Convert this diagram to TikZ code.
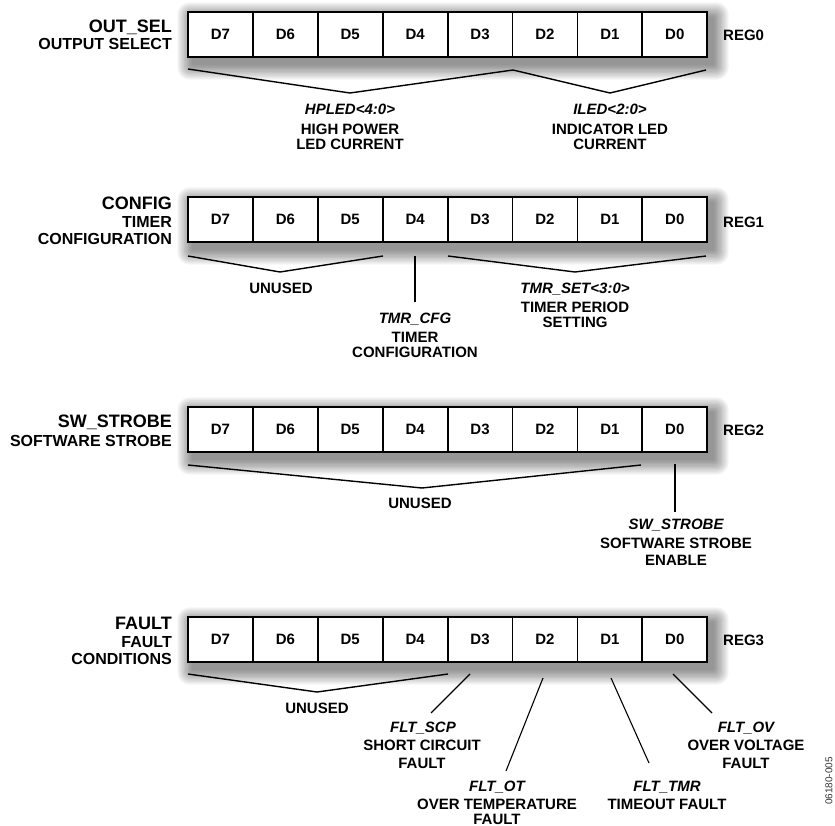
\documentclass[tikz,border=0pt]{standalone}
\usepackage{fontspec}
\setmainfont{Liberation Sans}
\begin{document}
\begin{tikzpicture}[x=1pt,y=-1pt,
  cell/.style={draw, line width=1.8pt, minimum width=64.9pt, minimum height=45pt, inner sep=0pt,
    font=\fontsize{15}{15}\selectfont\bfseries, fill=white},
  lbl/.style={inner sep=0pt, font=\fontsize{15}{15}\selectfont\bfseries, text height=10.8pt, text depth=0pt},
  ital/.style={inner sep=0pt, font=\fontsize{15}{15}\selectfont\bfseries\itshape, text height=10.8pt, text depth=0pt},
  ttl/.style={inner sep=0pt, anchor=east, font=\fontsize{18}{18}\selectfont\bfseries, text height=12.9pt, text depth=0pt},
  sub/.style={inner sep=0pt, anchor=east, font=\fontsize{16}{16}\selectfont\bfseries, text height=11.5pt, text depth=0pt},
  reg/.style={inner sep=0pt, anchor=west, font=\fontsize{15}{15}\selectfont\bfseries, text height=10.8pt, text depth=0pt},
  brk/.style={line width=1.4pt, line join=miter},
  pinline/.style={line width=2.2pt},
  thinline/.style={line width=1.1pt}]
\useasboundingbox (0,0) rectangle (835,826);

% shadows and register cells
\foreach \r/\T in {0/12,1/197,2/407,3/617}{
  \foreach \e in {1,...,12}{
    \fill[black, opacity=0.045, rounded corners=\e pt]
      ({193-1.3*\e},{\T+6-1.3*\e}) rectangle ({713+1.3*\e},{\T+52+1.3*\e});
  }
  \foreach \b in {7,...,0}{
    \node[cell] (r\r b\b) at ({188+(7-\b)*64.9+32.45},{\T+22.5}) {D\b};
  }
}

% register names
\node[reg] (reg0) at (723,35) {REG0};
\node[reg] (reg1) at (723,222) {REG1};
\node[reg] (reg2) at (723,430) {REG2};
\node[reg] (reg3) at (723,640) {REG3};

% left titles
\node[ttl] (t0a) at (172,26) {OUT\_SEL};
\node[sub] (t0b) at (172,44) {OUTPUT SELECT};
\node[ttl] (t1a) at (172,203) {CONFIG};
\node[sub] (t1b) at (172,222) {TIMER};
\node[sub] (t1c) at (172,239) {CONFIGURATION};
\node[ttl] (t2a) at (172,421) {SW\_STROBE};
\node[sub] (t2b) at (172,441) {SOFTWARE STROBE};
\node[ttl] (t3a) at (172,623) {FAULT};
\node[sub] (t3b) at (172,642) {FAULT};
\node[sub] (t3c) at (172,659) {CONDITIONS};

% ---- REG0 fields
\coordinate (a0) at (188,69);
\coordinate (a1) at (350,93);
\coordinate (a2) at (513,70);
\coordinate (a3) at (610,93);
\coordinate (a4) at (706,70);
\draw[brk] (a0) -- (a1) -- (a2) -- (a3) -- (a4);
\node[ital] (hp1) at (350,109) {HPLED<4:0>};
\node[lbl] (hp2) at (350,129) {HIGH POWER};
\node[lbl] (hp3) at (350,144) {LED CURRENT};
\node[ital] (il1) at (610,109) {ILED<2:0>};
\node[lbl] (il2) at (610,129) {INDICATOR LED};
\node[lbl] (il3) at (610,144) {CURRENT};

% ---- REG1 fields
\coordinate (b0) at (188,256);
\coordinate (b1) at (280,272);
\coordinate (b2) at (383,256);
\coordinate (b3) at (448,256);
\coordinate (b4) at (575,272);
\coordinate (b5) at (706,256);
\coordinate (b6) at (415,256);
\coordinate (b7) at (415,302);
\draw[brk] (b0) -- (b1) -- (b2);
\draw[brk] (b3) -- (b4) -- (b5);
\draw[pinline] (b6) -- (b7);
\node[lbl] (un1) at (281,288) {UNUSED};
\node[ital] (tc1) at (415,318) {TMR\_CFG};
\node[lbl] (tc2) at (415,337) {TIMER};
\node[lbl] (tc3) at (415,352) {CONFIGURATION};
\node[ital] (ts1) at (575,288) {TMR\_SET<3:0>};
\node[lbl] (ts2) at (575,307) {TIMER PERIOD};
\node[lbl] (ts3) at (575,322) {SETTING};

% ---- REG2 fields
\coordinate (c0) at (188,465);
\coordinate (c1) at (422,488);
\coordinate (c2) at (641,465);
\coordinate (c3) at (675,464);
\coordinate (c4) at (675,512);
\draw[brk] (c0) -- (c1) -- (c2);
\draw[pinline] (c3) -- (c4);
\node[lbl] (un2) at (420,503) {UNUSED};
\node[ital] (sw1) at (676,524) {SW\_STROBE};
\node[lbl] (sw2) at (676,543) {SOFTWARE STROBE};
\node[lbl] (sw3) at (676,560) {ENABLE};

% ---- REG3 fields
\coordinate (d0) at (188,674);
\coordinate (d1) at (317,692);
\coordinate (d2) at (448,674);
\draw[brk] (d0) -- (d1) -- (d2);
\node[lbl] (un3) at (317,708) {UNUSED};
\coordinate (e0) at (470,674);
\coordinate (e1) at (431,713);
\coordinate (f0) at (543,678);
\coordinate (f1) at (506,771);
\coordinate (g0) at (611,678);
\coordinate (g1) at (649,763);
\coordinate (h0) at (673,674);
\coordinate (h1) at (712,713);
\draw[thinline] (e0) -- (e1);
\draw[thinline] (f0) -- (f1);
\draw[thinline] (g0) -- (g1);
\draw[thinline] (h0) -- (h1);
\node[ital] (sc1) at (423,727) {FLT\_SCP};
\node[lbl] (sc2) at (422,745) {SHORT CIRCUIT};
\node[lbl] (sc3) at (422,763) {FAULT};
\node[ital] (ot1) at (497,786) {FLT\_OT};
\node[lbl] (ot2) at (497,804) {OVER TEMPERATURE};
\node[lbl] (ot3) at (497,819) {FAULT};
\node[ital] (tm1) at (667,786) {FLT\_TMR};
\node[lbl] (tm2) at (667,804) {TIMEOUT FAULT};
\node[ital] (ov1) at (746,727) {FLT\_OV};
\node[lbl] (ov2) at (746,745) {OVER VOLTAGE};
\node[lbl] (ov3) at (746,763) {FAULT};

% figure number
\node[inner sep=0pt, rotate=90, font=\fontsize{10}{10}\selectfont, text=black!80] (fig) at (829,781) {06180-005};
\end{tikzpicture}
\end{document}
